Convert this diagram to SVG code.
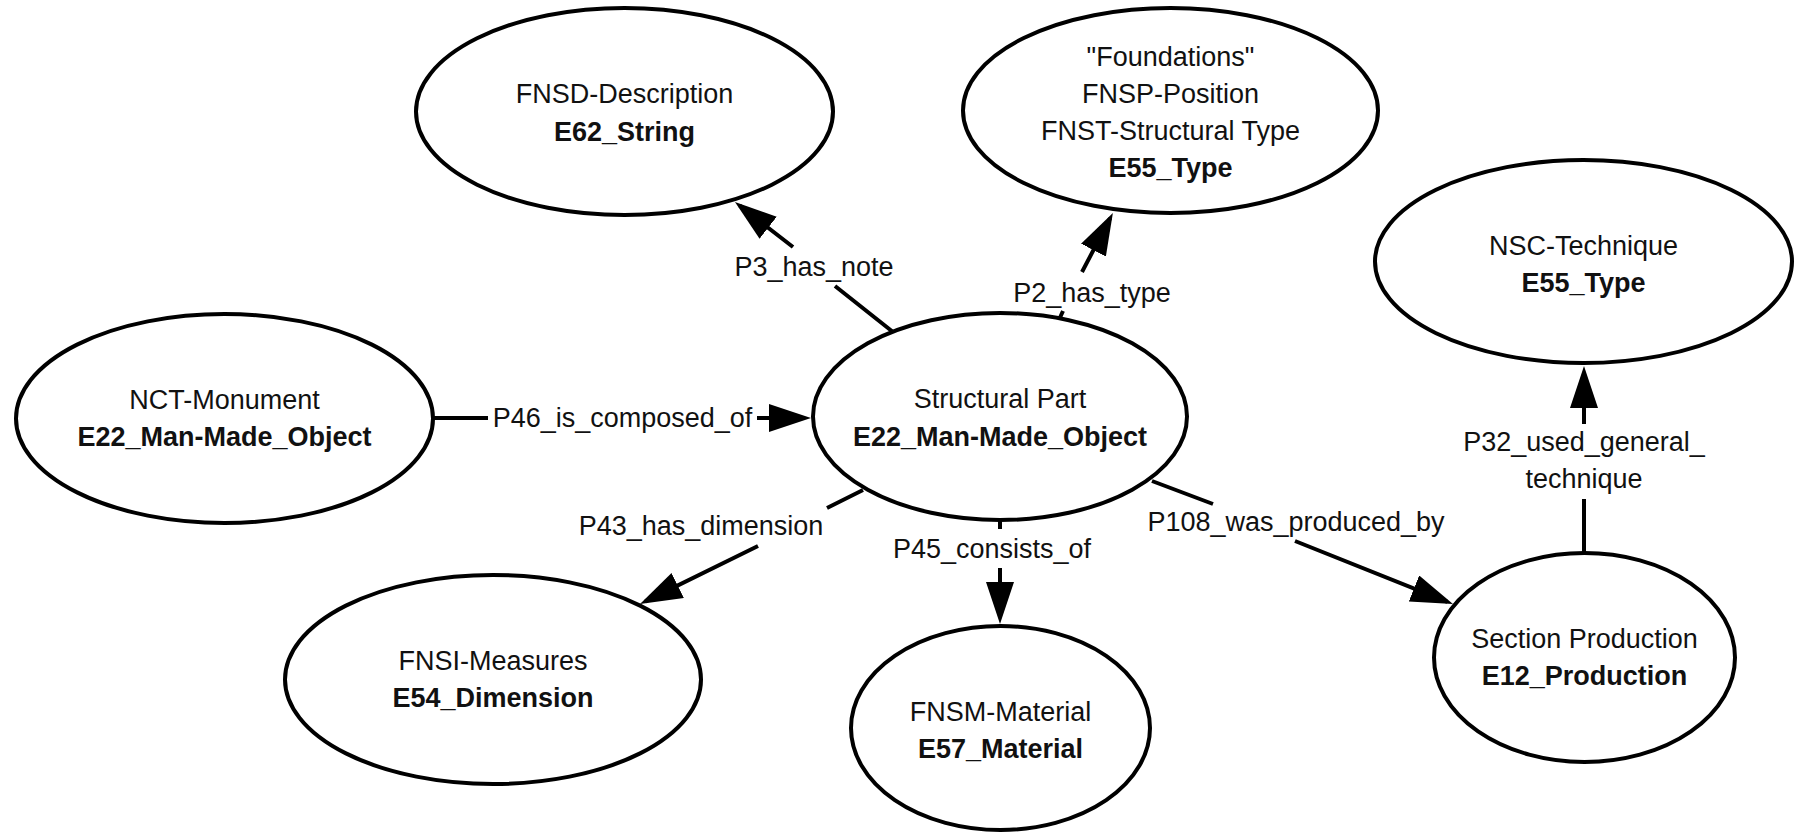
<svg xmlns="http://www.w3.org/2000/svg" width="1796" height="832" viewBox="0 0 1796 832">
<style>
.node ellipse{fill:#fff;stroke:#000;stroke-width:4}
text{font-family:"Liberation Sans",Arial,sans-serif;font-size:27px;fill:#111;text-anchor:middle}
.b{font-weight:bold}
.edge{fill:none;stroke:#000;stroke-width:4}
</style>
<defs>
<marker id="arr" markerUnits="userSpaceOnUse" markerWidth="44" markerHeight="30" refX="36" refY="14" orient="auto">
<path d="M0,0 L42,14 L0,28 z" fill="#000"/>
</marker>
</defs>
<rect width="1796" height="832" fill="#fff"/>
<g id="connectors">
<g id="e-p3"><path class="edge" d="M893,332 L835,286 M793,247 L739.7,205.7" marker-end="url(#arr)"/><text x="814" y="276">P3_has_note</text></g>
<g id="e-p2"><path class="edge" d="M1058,322 L1063,311 M1082,272 L1110.1,218.2" marker-end="url(#arr)"/><text x="1092" y="302">P2_has_type</text></g>
<g id="e-p46"><path class="edge" d="M433,418 L488,418 M757,418 L805,418" marker-end="url(#arr)"/><text x="622.5" y="427">P46_is_composed_of</text></g>
<g id="e-p43"><path class="edge" d="M863,490 L827,508 M758,546 L645.4,601.4" marker-end="url(#arr)"/><text x="701" y="535">P43_has_dimension</text></g>
<g id="e-p45"><path class="edge" d="M1000,520 L1000,529 M1000,568 L1000,618" marker-end="url(#arr)"/><text x="992" y="558">P45_consists_of</text></g>
<g id="e-p108"><path class="edge" d="M1152,481 L1213,504 M1295,541 L1447.4,601.8" marker-end="url(#arr)"/><text x="1296" y="531">P108_was_produced_by</text></g>
<g id="e-p32"><path class="edge" d="M1584,553 L1584,499 M1584,424 L1584,372" marker-end="url(#arr)"/><text x="1584" y="451">P32_used_general_</text><text x="1584" y="488">technique</text></g>
</g>
<g id="n-fnsd" class="node"><ellipse cx="624.5" cy="111.5" rx="208.5" ry="103.5"/><text x="624.5" y="103">FNSD-Description</text><text class="b" x="624.5" y="141">E62_String</text></g>
<g id="n-foundations" class="node"><ellipse cx="1170.5" cy="110.5" rx="207.5" ry="102.5"/><text x="1170.5" y="66">"Foundations"</text><text x="1170.5" y="103">FNSP-Position</text><text x="1170.5" y="140">FNST-Structural Type</text><text class="b" x="1170.5" y="177">E55_Type</text></g>
<g id="n-nsc" class="node"><ellipse cx="1583.5" cy="261.5" rx="208.5" ry="101.5"/><text x="1583.5" y="255">NSC-Technique</text><text class="b" x="1583.5" y="292">E55_Type</text></g>
<g id="n-nct" class="node"><ellipse cx="224.5" cy="418.5" rx="208.5" ry="104.5"/><text x="224.5" y="409">NCT-Monument</text><text class="b" x="224.5" y="446">E22_Man-Made_Object</text></g>
<g id="n-structural" class="node"><ellipse cx="1000" cy="416.5" rx="187" ry="103.5"/><text x="1000" y="408">Structural Part</text><text class="b" x="1000" y="446">E22_Man-Made_Object</text></g>
<g id="n-fnsi" class="node"><ellipse cx="493" cy="679.5" rx="208" ry="104.5"/><text x="493" y="670">FNSI-Measures</text><text class="b" x="493" y="707">E54_Dimension</text></g>
<g id="n-fnsm" class="node"><ellipse cx="1000.5" cy="728" rx="149.5" ry="102"/><text x="1000.5" y="721">FNSM-Material</text><text class="b" x="1000.5" y="758">E57_Material</text></g>
<g id="n-section" class="node"><ellipse cx="1584.5" cy="657.5" rx="150.5" ry="104.5"/><text x="1584.5" y="648">Section Production</text><text class="b" x="1584.5" y="685">E12_Production</text></g>
</svg>
